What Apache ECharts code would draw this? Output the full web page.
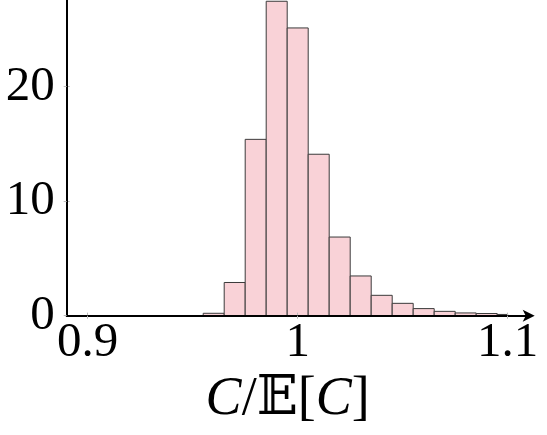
<!DOCTYPE html>
<html>
<head>
<meta charset="utf-8">
<script src="https://cdn.jsdelivr.net/npm/echarts@6/dist/echarts.min.js"></script>
<style>
html,body{margin:0;padding:0;background:#fff;}
#chart{width:547px;height:435px;}
</style>
</head>
<body>
<div id="chart"></div>
<script>
// Histogram bins (left edge, right edge) and bar heights (density)
const binStart = [0.955, 0.965, 0.975, 0.985, 0.995, 1.005, 1.015, 1.025, 1.035, 1.045, 1.055, 1.065, 1.075, 1.085, 1.095];
const binEnd   = [0.965, 0.975, 0.985, 0.995, 1.005, 1.015, 1.025, 1.035, 1.045, 1.055, 1.065, 1.075, 1.085, 1.095, 1.100];
const density  = [0.21, 2.9, 15.4, 27.46, 25.13, 14.1, 6.87, 3.47, 1.78, 1.08, 0.62, 0.38, 0.24, 0.19, 0.11];
const xTicks = [0.9, 1, 1.1];
const xTickLabels = ['0.9', '1', '1.1'];
const yTicks = [0, 10, 20];
const yTickLabels = ['0', '10', '20'];

const data = binStart.map((s, i) => [s, binEnd[i], density[i]]);
const font = '"Liberation Serif", "DejaVu Serif", serif';

const chart = echarts.init(document.getElementById('chart'), null, {renderer: 'canvas'});
chart.setOption({
  animation: false,
  backgroundColor: '#ffffff',
  grid: {left: 66.7, right: 18.3, top: 0, bottom: 119.3, containLabel: false, outerBoundsMode: 'none'},
  xAxis: [{
    type: 'value', min: 0.89, max: 1.11, z: 10,
    axisLine: {show: true, symbol: ['none', 'arrow'], symbolSize: [9, 12], symbolOffset: [0, 6], lineStyle: {color: '#000', width: 2}},
    axisTick: {show: true, customValues: xTicks, length: 3, lineStyle: {color: '#bbb', width: 1}},
    axisLabel: {
      customValues: xTicks,
      formatter: v => xTickLabels[xTicks.findIndex(t => Math.abs(t - v) < 1e-9)] ?? '',
      fontFamily: font, fontSize: 49, color: '#000', margin: 3, lineHeight: 49
    },
    splitLine: {show: false},
    name: '{it|C}/𝔼[{it|C}]',
    nameLocation: 'middle', nameGap: 52,
    nameTextStyle: {
      fontFamily: font, fontSize: 54, color: '#000', padding: [0, 20, 0, 0],
      rich: {it: {fontFamily: font, fontStyle: 'italic', fontSize: 54, color: '#000'}}
    }
  }, {
    type: 'value', min: 0.89, max: 1.11, position: 'bottom', z: 9,
    axisLine: {show: false},
    axisTick: {show: true, inside: true, customValues: xTicks, length: 3, lineStyle: {color: '#bbb', width: 1}},
    axisLabel: {show: false},
    splitLine: {show: false}
  }],
  yAxis: [{
    type: 'value', min: 0, max: 27.57, z: 10,
    axisLine: {show: true, lineStyle: {color: '#000', width: 2}},
    axisTick: {show: true, customValues: yTicks, length: 3, lineStyle: {color: '#bbb', width: 1}},
    axisLabel: {
      customValues: yTicks,
      formatter: v => yTickLabels[yTicks.findIndex(t => Math.abs(t - v) < 1e-9)] ?? '',
      fontFamily: font, fontSize: 49, color: '#000', margin: 12
    },
    splitLine: {show: false}
  }, {
    type: 'value', min: 0, max: 27.57, position: 'left', z: 9,
    axisLine: {show: false},
    axisTick: {show: true, inside: true, customValues: yTicks, length: 3, lineStyle: {color: '#bbb', width: 1}},
    axisLabel: {show: false},
    splitLine: {show: false}
  }],
  series: [{
    type: 'custom',
    xAxisIndex: 0, yAxisIndex: 0,
    data: data,
    encode: {x: [0, 1], y: 2},
    renderItem: function (params, api) {
      const p0 = api.coord([api.value(0), 0]);
      const p1 = api.coord([api.value(1), api.value(2)]);
      return {
        type: 'rect',
        shape: {x: p0[0], y: p1[1], width: p1[0] - p0[0], height: p0[1] - p1[1]},
        style: {fill: '#f9d2d7', stroke: '#3a3a3a', lineWidth: 1}
      };
    }
  }]
});
</script>
</body>
</html>
